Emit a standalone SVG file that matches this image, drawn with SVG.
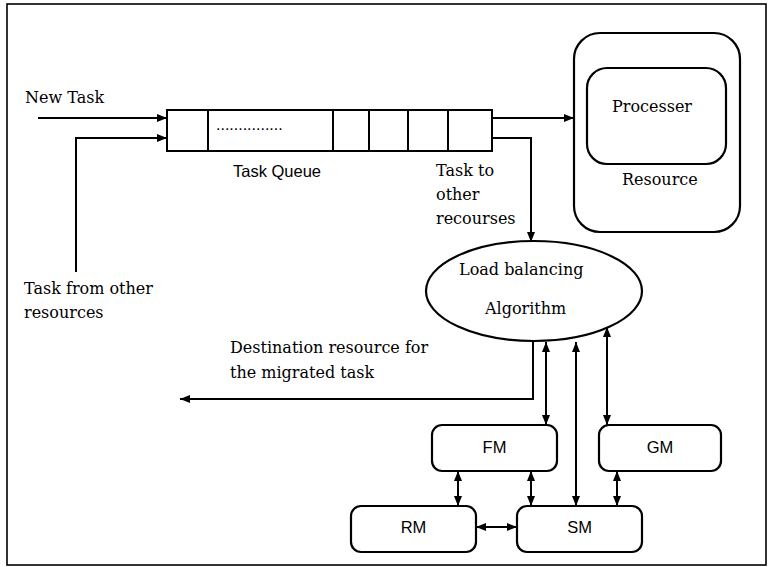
<svg xmlns="http://www.w3.org/2000/svg" width="771" height="567" viewBox="0 0 771 567">
<defs>
<marker id="ah" viewBox="0 0 10 8" refX="10" refY="4" markerWidth="10" markerHeight="8" markerUnits="userSpaceOnUse" orient="auto-start-reverse">
<path d="M0,0 L10,4 L0,8 Z" fill="#000"/>
</marker>
</defs>
<style>
.ser{font-family:"DejaVu Serif","Liberation Serif",serif;font-size:16px;fill:#000}
.san{font-family:"Liberation Sans",Arial,sans-serif;font-size:16.5px;fill:#000}
.box{fill:#fff;stroke:#000;stroke-width:2.2}
.ln{fill:none;stroke:#000;stroke-width:2}
.c{fill:none;stroke:#000;stroke-width:2}
.one{marker-end:url(#ah)}
.two{marker-start:url(#ah);marker-end:url(#ah)}
</style>
<rect x="0" y="0" width="771" height="567" fill="#fff"/>
<rect x="7" y="4" width="759" height="561" fill="none" stroke="#000" stroke-width="1.6"/>

<g id="queue">
<rect x="167" y="110" width="325" height="41" class="ln"/>
<line x1="208" y1="110" x2="208" y2="151" class="ln"/>
<line x1="333" y1="110" x2="333" y2="151" class="ln"/>
<line x1="369" y1="110" x2="369" y2="151" class="ln"/>
<line x1="408" y1="110" x2="408" y2="151" class="ln"/>
<line x1="448" y1="110" x2="448" y2="151" class="ln"/>
<text x="216" y="130" class="san" style="font-size:16px">...............</text>
<text x="233" y="177" class="san">Task Queue</text>
</g>

<g id="resource">
<rect x="574" y="33" width="166" height="199" rx="26" class="box"/>
<rect x="587" y="68" width="139" height="96" rx="20" class="box"/>
<text x="612" y="112" class="ser">Processer</text>
<text x="622" y="185" class="ser">Resource</text>
</g>

<g id="lba">
<ellipse cx="534" cy="291" rx="108" ry="50" class="box"/>
<text x="459" y="275" class="ser">Load balancing</text>
<text x="485" y="314" class="ser">Algorithm</text>
</g>

<g id="fm"><rect x="432" y="425" width="125" height="46" rx="10" class="box"/><text x="494.5" y="453" class="san" text-anchor="middle">FM</text></g>
<g id="gm"><rect x="599" y="425" width="122" height="46" rx="10" class="box"/><text x="660" y="453" class="san" text-anchor="middle">GM</text></g>
<g id="rm"><rect x="351" y="506" width="125" height="46" rx="10" class="box"/><text x="413.5" y="533" class="san" text-anchor="middle">RM</text></g>
<g id="sm"><rect x="517" y="506" width="125" height="46" rx="10" class="box"/><text x="579.5" y="533" class="san" text-anchor="middle">SM</text></g>

<g id="labels">
<text x="25" y="103" class="ser">New Task</text>
<text x="24" y="294" class="ser">Task from other</text>
<text x="24" y="318" class="ser">resources</text>
<text x="436" y="176" class="ser">Task to</text>
<text x="436" y="200" class="ser">other</text>
<text x="436" y="224" class="ser">recourses</text>
<text x="230" y="353" class="ser">Destination resource for</text>
<text x="230" y="378" class="ser">the migrated task</text>
</g>

<g id="connectors">
<line x1="38" y1="118" x2="167" y2="118" class="c one"/>
<polyline points="76,272 76,138 167,138" class="c one"/>
<line x1="492" y1="118" x2="574" y2="118" class="c one"/>
<polyline points="492,138 531,138 531,242" class="c one"/>
<polyline points="533,341 533,399 180,399" class="c one"/>
<line x1="546" y1="342" x2="546" y2="425" class="c two"/>
<line x1="576" y1="342" x2="576" y2="506" class="c two"/>
<line x1="607" y1="327" x2="607" y2="425" class="c two"/>
<line x1="458" y1="471" x2="458" y2="506" class="c two"/>
<line x1="531" y1="471" x2="531" y2="506" class="c two"/>
<line x1="617" y1="471" x2="617" y2="506" class="c two"/>
<line x1="476" y1="527" x2="517" y2="527" class="c two"/>
</g>
</svg>
